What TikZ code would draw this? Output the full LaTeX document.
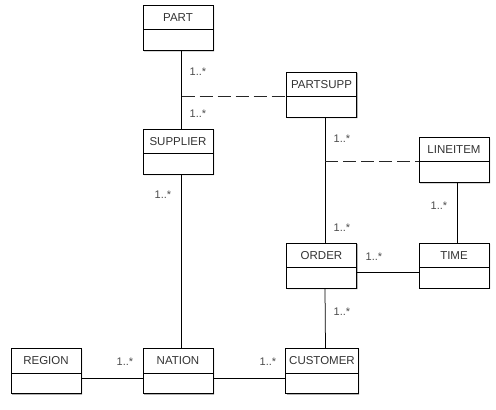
\documentclass[tikz,border=0pt]{standalone}
\usepackage{fontspec}
\setsansfont{Liberation Sans}
\usepackage{tikz}
\usetikzlibrary{calc}
\usetikzlibrary{positioning, shapes.multipart, shadows}

\begin{document}
\begin{tikzpicture}[
    x=1pt, y=-1pt,
    % Define the style for the classes (name part + empty body)
    entity/.style={rectangle split, rectangle split parts=2, draw, fill=white,
        line width=0.75pt, minimum width=70pt, minimum height=46pt,
        inner ysep=7.8pt, rectangle split empty part height=0pt,
        font=\sffamily\fontsize{11.5}{13}\selectfont, text=black!80,
        drop shadow={shadow xshift=1pt, shadow yshift=-1pt, fill=black!45, opacity=1}},
    % Define the style for the multiplicities
    mult/.style={font=\sffamily\fontsize{11}{13}\selectfont, text=black!70, inner sep=0pt},
    % Define the style for the association lines
    assoc/.style={line width=0.75pt},
    assocdash/.style={line width=0.75pt, dash pattern=on 13pt off 5pt, draw=black!85}
]

    % --- Configuration ---
    \useasboundingbox (0,0) rectangle (496,410);
    \def\off{3.5pt} % Offset of the vertical lines

    % --- The Classes ---
    \node[entity] (part)     at (178,28)    {PART};
    \node[entity] (partsupp) at (321.5,94.5) {PARTSUPP};
    \node[entity] (supplier) at (178,151.5) {SUPPLIER};
    \node[entity] (lineitem) at (454,160)   {LINEITEM};
    \node[entity] (order)    at (321.5,265.5) {ORDER};
    \node[entity] (time)     at (454,265.5) {TIME};
    \node[entity] (region)   at (46,371)    {REGION};
    \node[entity] (nation)   at (178,371)   {NATION};
    \node[entity] (customer) at (322,371)   {CUSTOMER};

    % --- The Associations ---
    \draw[assoc] ([xshift=\off]part.south) -- ([xshift=\off]supplier.north);
    \draw[assoc] ([xshift=\off]supplier.south) -- ([xshift=\off]nation.north);
    \draw[assoc] ([xshift=\off]partsupp.south) -- ([xshift=\off]order.north);
    \draw[assoc] ([xshift=\off]order.south) -- ([xshift=\off]customer.north);
    \draw[assoc] ([xshift=3pt]lineitem.south) -- ([xshift=3pt]time.north);
    \draw[assoc] ([yshift=-7pt]region.east) -- ([yshift=-7pt]nation.west);
    \draw[assoc] ([yshift=-7pt]nation.east) -- ([yshift=-7pt]customer.west);
    \draw[assoc] ([yshift=-6.5pt]order.east) -- ([yshift=-6.5pt]time.west);

    % Association classes (dashed links)
    \coordinate (psjoin) at ([xshift=\off]part.south |- partsupp.text split west);
    \coordinate (lijoin) at ([xshift=\off]partsupp.south |- lineitem.text split west);
    \draw[assocdash] (psjoin) -- (partsupp.text split west);
    \draw[assocdash] (lijoin) -- (lineitem.text split west);

    % --- Multiplicities ---
    \node[mult] (m1)  at (198,72)  {1..*};
    \node[mult] (m2)  at (198,114) {1..*};
    \node[mult] (m3)  at (163,195) {1..*};
    \node[mult] (m4)  at (342,139) {1..*};
    \node[mult] (m5)  at (342,228) {1..*};
    \node[mult] (m6)  at (374,257) {1..*};
    \node[mult] (m7)  at (439,206) {1..*};
    \node[mult] (m8)  at (125,362) {1..*};
    \node[mult] (m9)  at (268,362) {1..*};
    \node[mult] (m10) at (342,312) {1..*};

\end{tikzpicture}
\end{document}
